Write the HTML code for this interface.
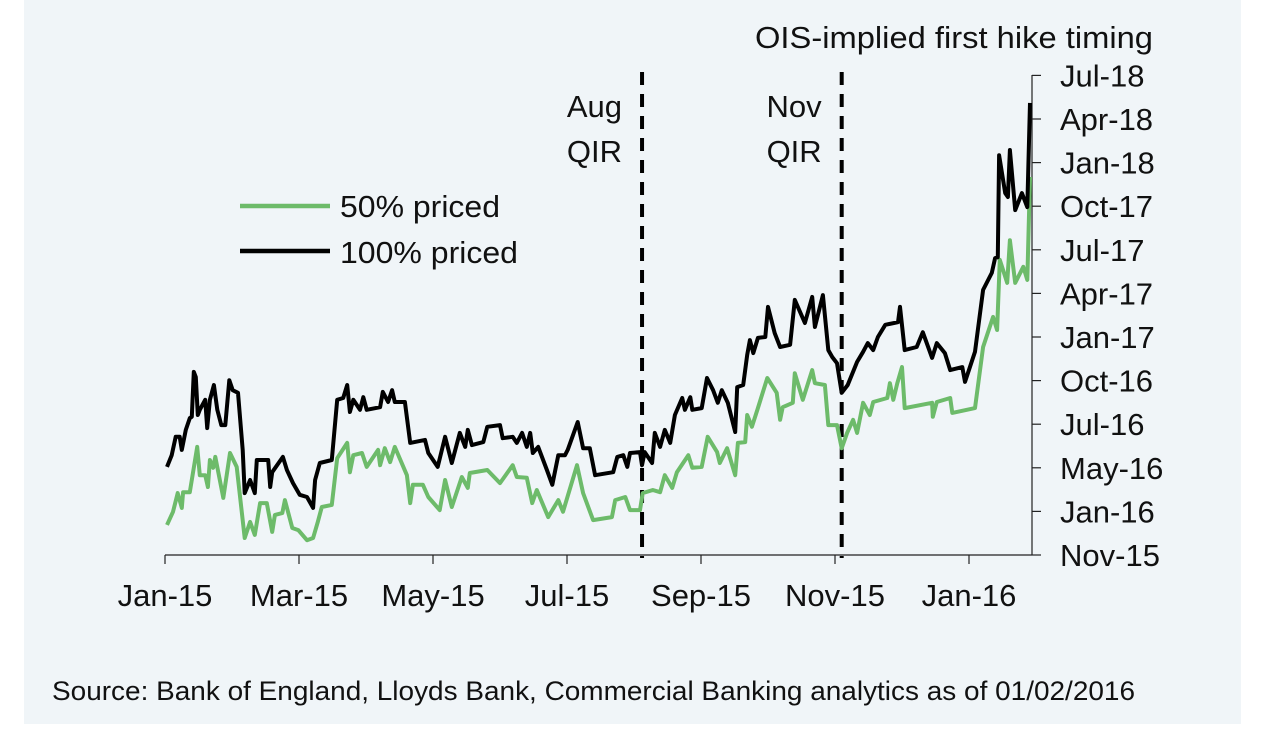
<!DOCTYPE html>
<html><head><meta charset="utf-8">
<style>
html,body{margin:0;padding:0;background:#fff;}
body{width:1278px;height:728px;overflow:hidden;}
svg text{font-family:"Liberation Sans",sans-serif;fill:#111;}
</style></head>
<body>
<svg id="chart" width="1278" height="728" viewBox="0 0 1278 728">
<rect x="24" y="0" width="1217" height="724" fill="#f0f5f8"/>
<g id="axes"></g>
<g id="series"></g>
<text x="755" y="48" font-size="31" textLength="398" lengthAdjust="spacingAndGlyphs">OIS-implied first hike timing</text>
<g>
<line x1="240" y1="206" x2="330" y2="206" stroke="#6dbb6a" stroke-width="4.5"/>
<text x="340" y="217" font-size="31" textLength="160" lengthAdjust="spacingAndGlyphs">50% priced</text>
<line x1="240" y1="251" x2="330" y2="251" stroke="#000" stroke-width="4.5"/>
<text x="340" y="263" font-size="31" textLength="178" lengthAdjust="spacingAndGlyphs">100% priced</text>
</g>
<text x="52" y="700" font-size="27" textLength="1083" lengthAdjust="spacingAndGlyphs">Source: Bank of England, Lloyds Bank, Commercial Banking analytics as of 01/02/2016</text>
</svg>
<script>
// x: months since Jan-15; y: index on the right axis (0 = Nov-15 ... 11 = Jul-18)
const xTickLabels = ["Jan-15","Mar-15","May-15","Jul-15","Sep-15","Nov-15","Jan-16"];
const xTickMonths = [0,2,4,6,8,10,12];
const yTickLabels = ["Nov-15","Jan-16","May-16","Jul-16","Oct-16","Jan-17","Apr-17","Jul-17","Oct-17","Jan-18","Apr-18","Jul-18"];
const qirMonths = [7.12, 10.10];
const qirLabels = [["Aug","QIR"],["Nov","QIR"]];
const months100 = [.03,.10,.16,.22,.25,.31,.37,.40,.43,.46,.49,.52,.60,.63,.67,.73,.78,.84,.90,.96,1.01,1.09,1.16,1.19,1.27,1.34,1.37,1.54,1.57,1.60,1.76,1.82,1.91,2.01,2.12,2.21,2.24,2.31,2.49,2.57,2.66,2.72,2.76,2.81,2.91,2.96,3.01,3.21,3.25,3.33,3.39,3.43,3.58,3.66,3.88,3.93,4.07,4.18,4.28,4.40,4.48,4.52,4.58,4.75,4.81,5.00,5.04,5.19,5.25,5.33,5.40,5.45,5.49,5.57,5.70,5.78,5.87,5.97,6.01,6.16,6.24,6.34,6.42,6.69,6.75,6.84,6.90,6.94,7.09,7.12,7.16,7.27,7.31,7.39,7.46,7.54,7.61,7.72,7.76,7.84,7.87,8.01,8.09,8.18,8.25,8.31,8.40,8.51,8.54,8.63,8.69,8.73,8.78,8.85,8.96,9.00,9.10,9.18,9.33,9.40,9.55,9.66,9.70,9.82,9.90,9.96,10.03,10.10,10.19,10.33,10.42,10.49,10.57,10.64,10.75,10.94,10.97,11.04,11.22,11.31,11.45,11.52,11.64,11.72,11.90,11.94,12.09,12.21,12.34,12.39,12.43,12.45,12.54,12.58,12.61,12.69,12.79,12.87,12.91];
const values100 = [2.02,2.29,2.71,2.71,2.41,2.87,3.14,3.17,4.20,4.08,3.21,3.33,3.56,2.91,3.56,3.90,3.33,2.98,2.98,4.01,3.78,3.72,2.41,1.42,1.72,1.42,2.18,2.18,1.56,1.90,2.25,1.95,1.65,1.38,1.33,1.08,1.72,2.11,2.18,3.56,3.60,3.90,3.28,3.56,3.33,3.62,3.33,3.39,3.74,3.51,3.78,3.51,3.51,2.57,2.64,2.34,2.02,2.71,2.11,2.80,2.48,2.87,2.52,2.59,2.94,2.98,2.68,2.71,2.57,2.80,2.48,2.80,2.34,2.48,1.95,1.61,2.29,2.29,2.41,3.05,2.45,2.45,1.83,1.90,2.25,2.29,2.02,2.34,2.36,2.06,2.36,2.11,2.80,2.48,2.87,2.57,3.21,3.60,3.33,3.62,3.33,3.37,4.06,3.78,3.49,3.78,3.49,2.82,3.85,3.90,4.59,4.93,4.63,4.98,5.00,5.69,5.09,4.77,4.82,5.85,5.32,5.92,5.23,5.96,4.70,4.54,4.40,3.72,3.90,4.43,4.66,4.86,4.70,5.00,5.28,5.34,5.69,4.70,4.77,5.11,4.52,4.86,4.63,4.24,4.31,3.97,4.66,6.08,6.47,6.81,6.83,9.17,8.30,8.21,9.29,7.91,8.30,7.98,10.37];
const months50 = [.03,.12,.19,.25,.27,.37,.48,.52,.60,.64,.67,.72,.75,.87,.97,1.07,1.19,1.27,1.34,1.42,1.52,1.60,1.64,1.75,1.79,1.90,1.99,2.12,2.21,2.28,2.34,2.49,2.57,2.72,2.76,2.81,2.94,3.01,3.18,3.21,3.28,3.36,3.43,3.61,3.66,3.70,3.85,3.93,4.10,4.18,4.28,4.43,4.52,4.55,4.81,5.00,5.19,5.25,5.40,5.48,5.55,5.72,5.87,5.94,6.15,6.24,6.39,6.67,6.72,6.87,6.94,7.09,7.13,7.28,7.39,7.46,7.57,7.64,7.81,7.87,8.01,8.10,8.24,8.28,8.39,8.51,8.55,8.66,8.69,8.76,8.85,8.99,9.13,9.18,9.22,9.37,9.40,9.52,9.66,9.70,9.85,9.90,10.03,10.10,10.18,10.27,10.33,10.42,10.52,10.57,10.78,10.82,10.87,10.93,11.00,11.04,11.45,11.46,11.52,11.72,11.75,12.09,12.21,12.36,12.42,12.46,12.57,12.61,12.69,12.81,12.87,12.91];
const values50 = [.69,.99,1.42,1.08,1.44,1.44,2.48,1.83,1.83,1.56,2.18,2.00,2.25,1.31,2.34,2.02,.39,.76,.46,1.19,1.19,.53,.92,.96,1.26,.62,.57,.34,.39,.76,1.10,1.15,2.22,2.57,1.90,2.29,2.34,2.02,2.41,2.06,2.45,2.13,2.48,1.83,1.19,1.61,1.61,1.33,1.03,1.72,1.10,1.79,1.54,1.88,1.95,1.65,2.06,1.79,1.77,1.19,1.49,.87,1.26,.99,2.06,1.42,.80,.87,1.26,1.33,1.03,1.03,1.42,1.49,1.44,1.83,1.54,1.90,2.29,2.00,2.02,2.71,2.36,2.11,2.45,1.83,2.57,2.59,3.21,2.94,3.37,4.06,3.72,3.10,3.39,3.49,4.17,3.56,4.24,3.94,3.90,2.98,2.98,2.45,2.80,3.10,2.80,3.49,3.21,3.51,3.60,3.94,3.56,3.94,4.31,3.37,3.49,3.17,3.51,3.60,3.26,3.37,4.77,5.46,5.16,6.77,6.24,7.22,6.24,6.61,6.31,8.67];

const NS="http://www.w3.org/2000/svg";
const X0=165, XPM=67, Y0=555, YPU=43.6, XEND=1032, YTOP=75;
function xs(m){return X0+m*XPM;}
function ys(v){return Y0-v*YPU;}
function mk(tag,attrs,parent){const e=document.createElementNS(NS,tag);for(const k in attrs)e.setAttribute(k,attrs[k]);parent.appendChild(e);return e;}
const axes=document.getElementById('axes');
const series=document.getElementById('series');

let xa=mk('line',{x1:X0,y1:Y0,x2:XEND,y2:Y0,stroke:'#222','stroke-width':1.2},axes);


xTickMonths.forEach((m,i)=>{
  let t=mk('line',{x1:xs(m),y1:Y0,x2:xs(m),y2:Y0+9,stroke:'#222','stroke-width':1.2},axes);
  
  
  let l=mk('text',{x:xs(m),y:606,'font-size':31,'text-anchor':'middle'},axes);
  l.textContent=xTickLabels[i];
  
  
});
let ya=mk('line',{x1:XEND,y1:YTOP,x2:XEND,y2:Y0,stroke:'#222','stroke-width':1.2},axes);


yTickLabels.forEach((s,i)=>{
  let t=mk('line',{x1:XEND,y1:ys(i),x2:XEND+9,y2:ys(i),stroke:'#222','stroke-width':1.2},axes);
  
  
  let l=mk('text',{x:1060,y:ys(i)+11,'font-size':31},axes);
  l.textContent=s;
  
  
});
qirMonths.forEach((m,i)=>{
  let d=mk('line',{x1:xs(m),y1:72,x2:xs(m),y2:558,stroke:'#000','stroke-width':4,'stroke-dasharray':'13,9'},axes);
  
  
  qirLabels[i].forEach((s,j)=>{
    let l=mk('text',{x:xs(m)-20,y:117+j*45,'font-size':31,'text-anchor':'end'},axes);
    l.textContent=s;
    
    
  });
});
function line(ms,vs,color,name){
  const p=ms.map((m,i)=>(i?'L':'M')+xs(m).toFixed(1)+','+ys(vs[i]).toFixed(1)).join('');
  let e=mk('path',{d:p,fill:'none',stroke:color,'stroke-width':4,'stroke-linejoin':'round'},series);
  
  
}
line(months50,values50,'#6dbb6a','line-50-priced');
line(months100,values100,'#000','line-100-priced');
</script>
</body></html>
